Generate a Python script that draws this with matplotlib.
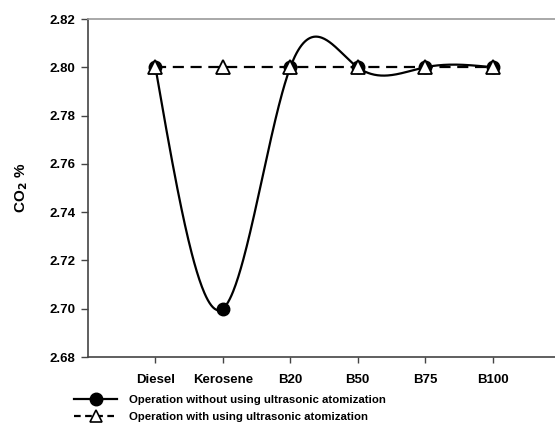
import numpy as np
import matplotlib
matplotlib.use("Agg")
import matplotlib.pyplot as plt
from matplotlib.lines import Line2D

categories = ["Diesel", "Kerosene", "B20", "B50", "B75", "B100"]
without_ultrasonic = [2.80, 2.70, 2.80, 2.80, 2.80, 2.80]
with_ultrasonic = [2.80, 2.80, 2.80, 2.80, 2.80, 2.80]
yticks = [2.68, 2.70, 2.72, 2.74, 2.76, 2.78, 2.80, 2.82]

plt.rcParams['font.family'] = ['Liberation Sans', 'DejaVu Sans']


def natural_spline(x, y, n=400):
    x = np.asarray(x, float)
    y = np.asarray(y, float)
    m = len(x)
    h = np.diff(x)
    A = np.zeros((m, m))
    b = np.zeros(m)
    A[0, 0] = 1
    A[-1, -1] = 1
    for i in range(1, m - 1):
        A[i, i - 1] = h[i - 1]
        A[i, i] = 2 * (h[i - 1] + h[i])
        A[i, i + 1] = h[i]
        b[i] = 6 * ((y[i + 1] - y[i]) / h[i] - (y[i] - y[i - 1]) / h[i - 1])
    M = np.linalg.solve(A, b)
    xs = np.linspace(x[0], x[-1], n)
    idx = np.clip(np.searchsorted(x, xs) - 1, 0, m - 2)
    x0, x1 = x[idx], x[idx + 1]
    hh = x1 - x0
    t0 = x1 - xs
    t1 = xs - x0
    ys = (M[idx] * t0**3 / (6 * hh) + M[idx + 1] * t1**3 / (6 * hh)
          + (y[idx] / hh - M[idx] * hh / 6) * t0
          + (y[idx + 1] / hh - M[idx + 1] * hh / 6) * t1)
    return xs, ys


fig = plt.figure(figsize=(5.55, 4.23), dpi=100)
ax = fig.add_axes([88 / 555, 1 - 357 / 423, 472 / 555, 338 / 423])

x = np.arange(1, len(categories) + 1)
xs, ys = natural_spline(x, without_ultrasonic)

ax.plot(xs, ys, color='black', lw=1.6, zorder=2)
ax.plot(x, with_ultrasonic, color='black', lw=1.6, ls=(0, (5, 3)), zorder=3)
ax.plot(x, without_ultrasonic, ls='none', marker='o', ms=9, mfc='black',
        mec='black', zorder=4)
ax.plot(x, with_ultrasonic, ls='none', marker='^', ms=9.5, mfc='white',
        mec='black', mew=1.3, zorder=5)

ax.set_xlim(0, 7)
ax.set_ylim(2.68, 2.82)
ax.set_yticks(yticks)
ax.set_yticklabels([f"{v:.2f}" for v in yticks], fontsize=9.5, fontweight='bold')
ax.set_xticks(x)
ax.set_xticklabels(categories, fontsize=9.5, fontweight='bold')
ax.tick_params(axis='y', direction='out', length=5, width=1, color='#444444', pad=4)
ax.tick_params(axis='x', direction='out', length=4, width=1, color='#444444', pad=8)

ax.spines['left'].set_color('#444444')
ax.spines['bottom'].set_color('#444444')
ax.spines['top'].set_color('#999999')
ax.spines['right'].set_visible(False)
for s in ax.spines.values():
    s.set_linewidth(1.2)

ax.set_ylabel("CO$_\\mathbf{2}$ %", fontsize=11, fontweight='bold', labelpad=14)

handles = [
    Line2D([], [], color='black', lw=1.6, marker='o', ms=9, mfc='black', mec='black'),
    Line2D([], [], color='black', lw=1.6, ls=(0, (3, 2)), marker='^', ms=8,
           mfc='white', mec='black', mew=1.2),
]
labels = ["Operation without using ultrasonic atomization",
          "Operation with using ultrasonic atomization"]
fig.legend(handles, labels, loc='upper left', bbox_to_anchor=(74 / 555, 1 - 395 / 423),
           frameon=False, prop={'weight': 'bold', 'size': 8.2},
           handlelength=3.8, handletextpad=1.0, labelspacing=0.6,
           borderpad=0, borderaxespad=0)

fig.savefig("out.png", dpi=100)
